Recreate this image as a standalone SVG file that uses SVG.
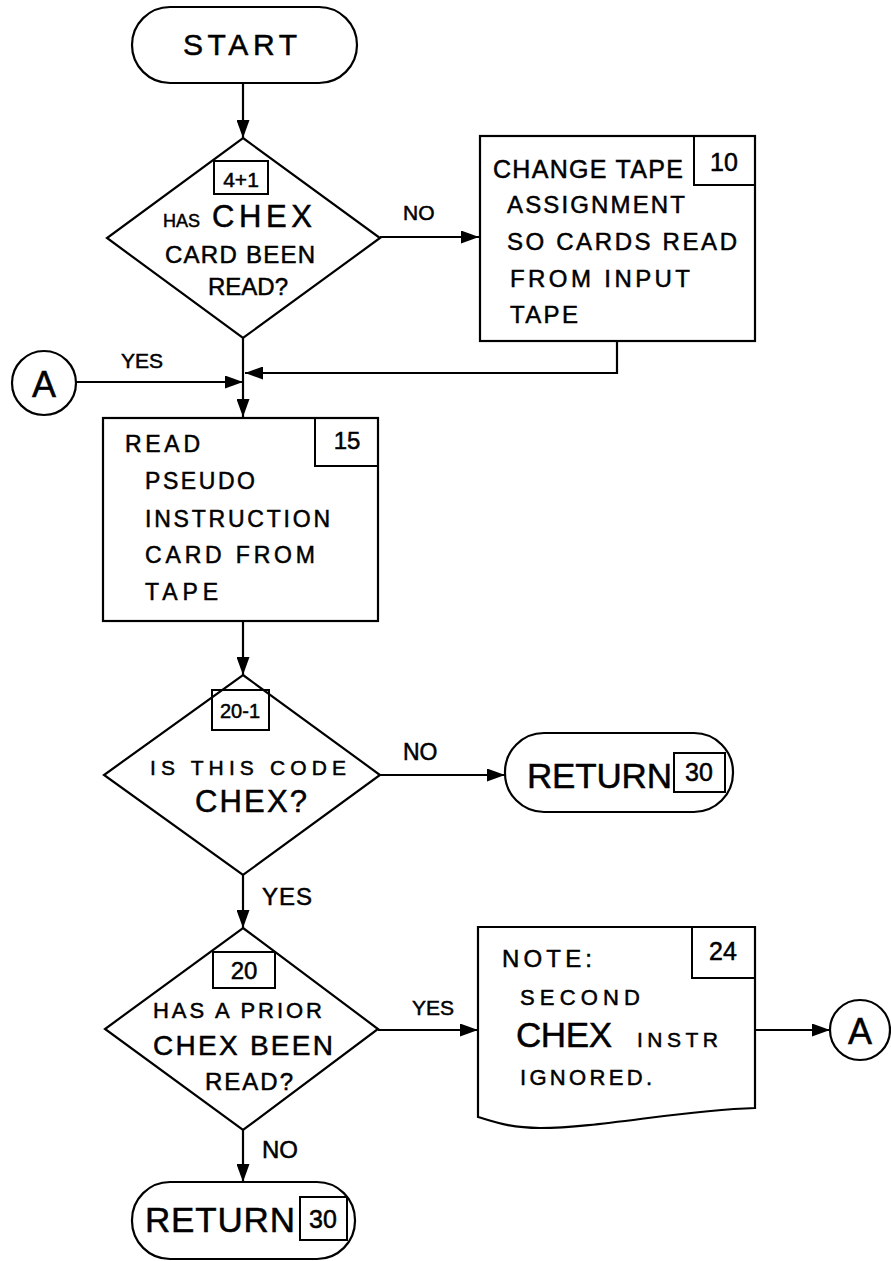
<svg xmlns="http://www.w3.org/2000/svg" width="891" height="1261" viewBox="0 0 891 1261">
<defs>
<marker id="ah" viewBox="0 0 10 10" refX="10" refY="5" markerWidth="18" markerHeight="13" markerUnits="userSpaceOnUse" orient="auto" preserveAspectRatio="none">
<path d="M0,0 L10,5 L0,10 z" fill="#000"/>
</marker>
<style>
.s{fill:#fff;stroke:#000;stroke-width:2.2}
.n{fill:none;stroke:#000;stroke-width:2}
.c{fill:none;stroke:#000;stroke-width:2.2;marker-end:url(#ah)}
text{font-family:"Liberation Sans","DejaVu Sans",sans-serif;fill:#000;stroke:#000;stroke-width:0.5}
.num{text-anchor:middle}
</style>
</defs>
<rect width="891" height="1261" fill="#fff"/>
<g id="connectors">
<line class="c" x1="243" y1="82" x2="243" y2="138"/>
<line class="c" x1="380" y1="237" x2="479" y2="237"/>
<polyline class="c" points="617,341 617,373 245,373"/>
<line class="c" x1="76" y1="382" x2="243" y2="382"/>
<line class="c" x1="243" y1="338" x2="243" y2="417"/>
<line class="c" x1="243" y1="622" x2="243" y2="675"/>
<line class="c" x1="380" y1="775" x2="505" y2="775"/>
<line class="c" x1="243" y1="875" x2="243" y2="928"/>
<line class="c" x1="378" y1="1030" x2="478" y2="1030"/>
<line class="c" x1="755" y1="1030" x2="830" y2="1030"/>
<line class="c" x1="243" y1="1130" x2="243" y2="1182"/>
<text x="403" y="220" font-size="21">NO</text>
<text x="121" y="368" font-size="21">YES</text>
<text x="403" y="760" font-size="23">NO</text>
<text x="262" y="905" font-size="24" textLength="50">YES</text>
<text x="412" y="1015" font-size="21">YES</text>
<text x="262" y="1158" font-size="24">NO</text>
</g>
<g id="start">
<rect class="s" x="132" y="7" width="225" height="76" rx="38"/>
<text x="183" y="55" font-size="30" textLength="114">START</text>
</g>
<g id="d41">
<polygon class="s" points="243,138 380,238 243,338 107,238"/>
<rect class="n" x="214" y="161" width="54" height="33"/>
<text class="num" x="241" y="187" font-size="21">4+1</text>
<text x="163" y="227" font-size="18" textLength="37">HAS</text>
<text x="212" y="227" font-size="31" textLength="100">CHEX</text>
<text x="165" y="263" font-size="24" textLength="150">CARD BEEN</text>
<text x="208" y="295" font-size="24" textLength="80">READ?</text>
</g>
<g id="b10">
<rect class="s" x="480" y="136" width="275" height="205"/>
<rect class="n" x="694" y="136" width="61" height="49"/>
<text class="num" x="724" y="171" font-size="25">10</text>
<text x="493" y="178" font-size="25" textLength="190">CHANGE TAPE</text>
<text x="507" y="213" font-size="24" textLength="178">ASSIGNMENT</text>
<text x="507" y="250" font-size="24" textLength="230">SO CARDS READ</text>
<text x="510" y="287" font-size="24" textLength="180">FROM INPUT</text>
<text x="510" y="323" font-size="24" textLength="68">TAPE</text>
</g>
<g id="a1">
<circle class="s" cx="44" cy="383" r="32"/>
<text x="44" y="397" font-size="36" text-anchor="middle">A</text>
</g>
<g id="b15">
<rect class="s" x="103" y="418" width="275" height="203"/>
<rect class="n" x="315" y="418" width="63" height="48"/>
<text class="num" x="347" y="449" font-size="24">15</text>
<text x="125" y="452" font-size="23" textLength="75">READ</text>
<text x="145" y="489" font-size="23" textLength="110">PSEUDO</text>
<text x="145" y="527" font-size="23" textLength="185">INSTRUCTION</text>
<text x="145" y="563" font-size="23" textLength="170">CARD FROM</text>
<text x="145" y="600" font-size="23" textLength="73">TAPE</text>
</g>
<g id="d201">
<polygon class="s" points="243,675 380,775 243,875 104,775"/>
<rect class="n" x="212" y="690" width="57" height="40"/>
<text class="num" x="240" y="718" font-size="20">20-1</text>
<text x="150" y="775" font-size="21" textLength="196">IS THIS CODE</text>
<text x="195" y="812" font-size="31" textLength="112">CHEX?</text>
</g>
<g id="ret1">
<rect class="s" x="505" y="733" width="228" height="79" rx="39"/>
<text x="527" y="788" font-size="35" textLength="145">RETURN</text>
<rect class="n" x="674" y="753" width="51" height="39"/>
<text class="num" x="699" y="781" font-size="25">30</text>
</g>
<g id="d20">
<polygon class="s" points="243,928 378,1029 243,1130 105,1029"/>
<rect class="n" x="213" y="952" width="62" height="36"/>
<text class="num" x="244" y="979" font-size="24">20</text>
<text x="153" y="1018" font-size="22" textLength="169">HAS A PRIOR</text>
<text x="153" y="1055" font-size="28" textLength="180">CHEX BEEN</text>
<text x="205" y="1090" font-size="24" textLength="88">READ?</text>
</g>
<g id="n24">
<path class="s" d="M478,927 L755,927 L755,1108 C680,1110 600,1128 540,1128 C510,1128 495,1122 478,1117 Z"/>
<rect class="n" x="692" y="927" width="63" height="51"/>
<text class="num" x="723" y="960" font-size="25">24</text>
<text x="502" y="967" font-size="24" textLength="90">NOTE:</text>
<text x="520" y="1005" font-size="22" textLength="120">SECOND</text>
<text x="516" y="1047" font-size="35" textLength="96">CHEX</text>
<text x="637" y="1047" font-size="21" textLength="81">INSTR</text>
<text x="520" y="1085" font-size="22" textLength="132">IGNORED.</text>
</g>
<g id="a2">
<circle class="s" cx="860" cy="1030" r="30"/>
<text x="860" y="1044" font-size="36" text-anchor="middle">A</text>
</g>
<g id="ret2">
<rect class="s" x="132" y="1182" width="223" height="77" rx="38"/>
<text x="145" y="1232" font-size="35" textLength="150">RETURN</text>
<rect class="n" x="300" y="1197" width="47" height="43"/>
<text class="num" x="323" y="1228" font-size="25">30</text>
</g>
</svg>
